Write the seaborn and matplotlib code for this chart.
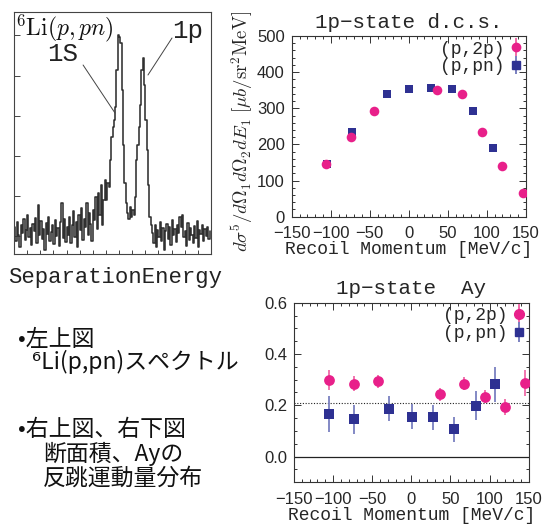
import numpy as np
import pandas as pd
import matplotlib
matplotlib.use("Agg")
import matplotlib.pyplot as plt
import seaborn as sns
from matplotlib.lines import Line2D
from matplotlib.ticker import MultipleLocator, FixedLocator

# ---------------- data ----------------
# 6Li(p,pn) separation-energy spectrum (arbitrary units)
spec_counts = [
    28, 14, 33, 20, 8, 30, 22, 36, 15, 25, 40, 18, 27, 10, 31, 24, 37, 12, 50, 20,
    34, 16, 26, 5, 32, 21, 38, 14, 23, 30, 11, 35, 19, 27, 9, 33, 52, 17, 36, 13, 28,
    20, 38, 12, 30, 44, 18, 33, 8, 40, 25, 47, 15, 36, 28, 52, 20, 42, 31, 14, 45,
    35, 58, 26, 62, 40, 70, 30, 55, 75, 55, 72,
    68, 95, 118, 128, 135, 148, 185, 220, 218, 212, 165, 110, 72, 52,
    42, 36, 48, 38, 45, 40, 58, 95, 110, 128, 150, 185, 197, 170, 135, 105, 70, 38, 30,
    22, 12, 30, 8, 25, 18, 33, 14, 27, 5, 24, 31, 16, 28, 10, 35, 20, 26, 13, 30,
    22, 38, 28, 40, 18, 24, 9, 32, 15, 27, 20, 12, 29, 17, 34, 8, 25, 21, 30, 14,
    26, 19, 28, 16, 24,
]

# 1p-state differential cross section
dcs_p2p_x = [-106, -74, -44, 36, 68, 94, 120, 146]
dcs_p2p_y = [146, 220, 292, 351, 339, 234, 140, 66]
dcs_p2p_err = [5, 5, 6, 6, 6, 5, 5, 4]
dcs_ppn_x = [-105, -73, -28, 0, 28, 56, 83, 108]
dcs_ppn_y = [146, 233, 339, 352, 355, 352, 292, 191]
dcs_ppn_err = [6, 8, 8, 9, 9, 9, 8, 7]

# 1p-state analyzing power Ay
ay_p2p_x = [-105, -73, -43, 36, 67, 94, 120, 145]
ay_p2p_y = [0.299, 0.284, 0.294, 0.243, 0.284, 0.234, 0.194, 0.287]
ay_p2p_err = [0.04, 0.03, 0.025, 0.025, 0.025, 0.025, 0.03, 0.05]
ay_ppn_x = [-105, -73, -28, 1, 28, 55, 82, 107]
ay_ppn_y = [0.165, 0.145, 0.187, 0.156, 0.153, 0.106, 0.199, 0.282]
ay_ppn_err = [0.07, 0.058, 0.05, 0.048, 0.05, 0.05, 0.055, 0.068]
ay_ref = 0.21

series_labels = ["(p,2p)", "(p,pn)"]
x_ticks = [-150, -100, -50, 0, 50, 100, 150]

notes = ["•左上図", "⁶Li(p,pn)スペクトル", "•右上図、右下図", "断面積、Ayの", "反跳運動量分布"]

# ---------------- style ----------------
sns.set_theme(style="ticks")
plt.rcParams["font.family"] = ["Liberation Sans", "DejaVu Sans"]
plt.rcParams["mathtext.fontset"] = "cm"
plt.rcParams["axes.unicode_minus"] = True

PINK = "#e8208a"
PINK_BAR = "#f06aa8"
BLUE = "#2e3192"
BLUE_BAR = "#7a80c0"
MONO = "Liberation Mono"
W, H = 545, 526

fig = plt.figure(figsize=(W / 100, H / 100), dpi=100)


def px_axes(l, t, r, b):
    return fig.add_axes([l / W, 1 - b / H, (r - l) / W, (b - t) / H])


# ---------------- spectrum ----------------
ax0 = px_axes(14, 12, 211, 254)
df_spec = pd.DataFrame({"ch": np.arange(len(spec_counts)) + 0.5, "counts": spec_counts})
sns.lineplot(data=df_spec, x="ch", y="counts", ax=ax0, color="#303030", lw=1.15,
             drawstyle="steps-mid")
ax0.set_xlim(0, 150)
ax0.set_ylim(1, 243)
ax0.set_xlabel("")
ax0.set_ylabel("")
ax0.yaxis.set_major_locator(FixedLocator([19, 59, 99, 139, 179, 220]))
ax0.xaxis.set_major_locator(MultipleLocator(10))
ax0.tick_params(axis="both", direction="in", labelleft=False, labelbottom=False,
                width=0.7, color="#444444")
ax0.tick_params(axis="y", length=4)
ax0.tick_params(axis="x", length=3)
for s in ax0.spines.values():
    s.set_linewidth(0.8)
    s.set_color("#444444")
ax0.text(0.003, 0.998, r"$^6\mathrm{Li}(p,pn)$", transform=ax0.transAxes,
         ha="left", va="top", fontsize=17, color="#111111")
ax0.text(48.7, 189, "1S", family=MONO, fontsize=18.5, ha="right", va="bottom",
         color="#222222")
ax0.plot([52.6, 76.9], [190, 142], color="#444444", lw=0.7)
ax0.text(120.3, 217, "1p", family=MONO, fontsize=18.5, ha="left", va="baseline",
         color="#222222")
ax0.plot([120.3, 102], [217, 180], color="#444444", lw=0.7)
fig.text(115 / W, 1 - 278 / H, "SeparationEnergy", family=MONO, fontsize=16,
         ha="center", va="center", color="#222222")


def style_axes(ax):
    ax.tick_params(axis="both", which="both", direction="in", top=True, right=True,
                   labelsize=12, width=0.7, color="#333333")
    ax.tick_params(axis="y", which="major", pad=5)
    ax.tick_params(axis="x", which="major", pad=7)
    ax.tick_params(which="major", length=5)
    ax.tick_params(which="minor", length=2.5)
    for s in ax.spines.values():
        s.set_linewidth(0.8)
        s.set_color("#333333")


def legend(ax, ms_c, ms_s, bar):
    h1 = (Line2D([0], [0], marker="|", ms=bar, mew=1.4, color=PINK_BAR, ls=""),
          Line2D([0], [0], marker="o", ms=ms_c, color=PINK, ls=""))
    h2 = (Line2D([0], [0], marker="|", ms=bar, mew=1.4, color=BLUE_BAR, ls=""),
          Line2D([0], [0], marker="s", ms=ms_s, color=BLUE, ls=""))
    ax.legend([h1, h2], series_labels, loc="upper right", frameon=False,
              markerfirst=False, handlelength=0.6, handletextpad=0.3,
              labelspacing=0.05, borderaxespad=0.15, borderpad=0.1,
              prop={"family": MONO, "size": 13})


# ---------------- cross section ----------------
ax1 = px_axes(291.7, 36, 525.7, 216.7)
df_p2p = pd.DataFrame({"p": dcs_p2p_x, "v": dcs_p2p_y})
df_ppn = pd.DataFrame({"p": dcs_ppn_x, "v": dcs_ppn_y})
ax1.errorbar(dcs_ppn_x, dcs_ppn_y, yerr=dcs_ppn_err, fmt="none", ecolor=BLUE_BAR,
             elinewidth=1.2, zorder=2)
ax1.errorbar(dcs_p2p_x, dcs_p2p_y, yerr=dcs_p2p_err, fmt="none", ecolor=PINK_BAR,
             elinewidth=1.2, zorder=2)
sns.scatterplot(data=df_ppn, x="p", y="v", ax=ax1, marker="s", s=38, color=BLUE,
                edgecolor=BLUE, linewidth=0, zorder=3)
sns.scatterplot(data=df_p2p, x="p", y="v", ax=ax1, marker="o", s=48, color=PINK,
                edgecolor=PINK, linewidth=0, zorder=4)
ax1.set_xlim(-150, 150)
ax1.set_ylim(0, 500)
ax1.xaxis.set_major_locator(FixedLocator(x_ticks))
ax1.xaxis.set_minor_locator(MultipleLocator(10))
ax1.yaxis.set_major_locator(MultipleLocator(100))
ax1.yaxis.set_minor_locator(MultipleLocator(20))
style_axes(ax1)
ax1.set_title("1p\u2212state d.c.s.", family=MONO, fontsize=15, pad=6)
ax1.set_xlabel("Recoil Momentum [MeV/c]", family=MONO, fontsize=13, labelpad=0)
ax1.set_ylabel(r"$d\sigma^5/d\Omega_1 d\Omega_2 dE_1\ [\mu b/\mathrm{sr}^2\mathrm{MeV}]$",
               fontsize=13.5)
ax1.yaxis.set_label_coords(-0.155, 0.47)
legend(ax1, 6, 5.5, 13)

# ---------------- Ay ----------------
ax2 = px_axes(294, 302.7, 528.7, 482.3)
df_ay_p2p = pd.DataFrame({"p": ay_p2p_x, "v": ay_p2p_y})
df_ay_ppn = pd.DataFrame({"p": ay_ppn_x, "v": ay_ppn_y})
ax2.axhline(0.0, color="#222222", lw=0.9, zorder=1)
ax2.axhline(ay_ref, color="#222222", lw=0.8, ls=(0, (1, 1.5)), zorder=1)
ax2.errorbar(ay_ppn_x, ay_ppn_y, yerr=ay_ppn_err, fmt="none", ecolor=BLUE_BAR,
             elinewidth=1.3, zorder=2)
ax2.errorbar(ay_p2p_x, ay_p2p_y, yerr=ay_p2p_err, fmt="none", ecolor=PINK_BAR,
             elinewidth=1.3, zorder=2)
sns.scatterplot(data=df_ay_ppn, x="p", y="v", ax=ax2, marker="s", s=45, color=BLUE,
                edgecolor=BLUE, linewidth=0, zorder=3)
sns.scatterplot(data=df_ay_p2p, x="p", y="v", ax=ax2, marker="o", s=60, color=PINK,
                edgecolor=PINK, linewidth=0, zorder=4)
ax2.set_xlim(-150, 150)
ax2.set_ylim(-0.1, 0.6)
ax2.xaxis.set_major_locator(FixedLocator(x_ticks))
ax2.xaxis.set_minor_locator(MultipleLocator(10))
ax2.yaxis.set_major_locator(MultipleLocator(0.2))
ax2.yaxis.set_minor_locator(MultipleLocator(0.05))
ax2.yaxis.set_major_formatter(matplotlib.ticker.FormatStrFormatter("%.1f"))
style_axes(ax2)
ax2.set_title("1p\u2212state  Ay", family=MONO, fontsize=15, pad=6)
ax2.set_xlabel("Recoil Momentum [MeV/c]", family=MONO, fontsize=13, labelpad=0)
ax2.set_ylabel("")
legend(ax2, 7, 6, 15)

# ---------------- Japanese notes ----------------
jp = ["Noto Sans CJK JP", "DejaVu Sans"]
note_pos = [(18, 339), (32, 362), (18, 430), (43, 454), (43, 478)]
for (x, y), t in zip(note_pos, notes):
    fig.text(x / W, 1 - y / H, t, family=jp, fontsize=16.5, ha="left", va="center",
             color="#111111")

fig.savefig("out.png", dpi=100)
